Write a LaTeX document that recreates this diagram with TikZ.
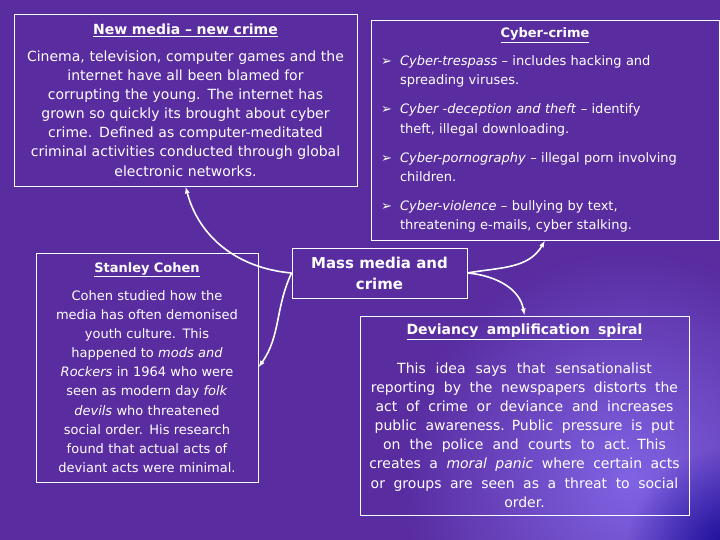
\documentclass[tikz,border=0pt]{standalone}
\usepackage{fontspec}
\setmainfont{DejaVu Sans}
\usetikzlibrary{arrows.meta,fadings}

\definecolor{bgpurple}{RGB}{89,44,160}
\definecolor{glowpurple}{RGB}{128,100,228}
\definecolor{cornerblue}{RGB}{15,5,150}
\tikzfading[name=softglow, inner color=transparent!0, outer color=transparent!100]

\tikzset{
  panel/.style={draw=white, line width=0.9pt, text=white, inner xsep=8pt,
    inner ysep=0pt, align=center, font=\fontsize{13}{19.1}\selectfont},
  widepanel/.style={panel, font=\fontsize{14}{19.1}\selectfont},
  hub/.style={panel, font=\fontsize{15}{21}\selectfont\bfseries},
  link/.style={draw=white, line width=1.6pt, -{Latex[length=7pt,width=5pt]}}
}
\newcommand{\heading}[1]{\underline{\textbf{#1}}}
\newcommand{\bul}{\makebox[19pt][l]{➢}}
\newcommand{\hang}{\hspace*{19pt}}

\begin{document}
\begin{tikzpicture}[x=1pt,y=1pt]
  \useasboundingbox (0,0) rectangle (720,540);
  % background
  \begin{scope}
    \clip (0,0) rectangle (720,540);
    \fill[bgpurple] (0,0) rectangle (720,540);
    \fill[glowpurple, path fading=softglow] (630,60) circle (230);
    \fill[cornerblue, path fading=softglow] (735,-15) circle (110);
  \end{scope}

  % boxes
  \node[widepanel, text width=327pt, minimum width=343pt, minimum height=172pt]
    (newmedia) at (185.5,440) {%
      \heading{New media – new crime}\\[8pt]
      Cinema, television, computer games and the\\
      internet have all been blamed for\\
      corrupting the young.  The internet has\\
      grown so quickly its brought about cyber\\
      crime.  Defined as computer-meditated\\
      criminal activities conducted through global\\
      electronic networks.};
  \node[panel, align=left, inner xsep=10pt, text width=328pt,
    minimum width=348pt, minimum height=220pt]
    (cyber) at (545,410) {%
      \makebox[328pt]{\heading{Cyber-crime}}\\[9pt]
      \bul\textit{Cyber-trespass} – includes hacking and\\
      \hang spreading viruses.\\[10pt]
      \bul\textit{Cyber -deception and theft} – identify\\
      \hang theft, illegal downloading.\\[10pt]
      \bul\textit{Cyber-pornography} – illegal porn involving\\
      \hang children.\\[10pt]
      \bul\textit{Cyber-violence} – bullying by text,\\
      \hang threatening e-mails, cyber stalking.};
  \node[hub, minimum width=175pt, minimum height=50pt]
    (massmedia) at (379.5,267) {Mass media and\\crime};
  \node[panel, text width=206pt, minimum width=222pt, minimum height=229pt]
    (cohen) at (147,172.5) {%
      \heading{Stanley Cohen}\\[9pt]
      Cohen studied how the\\
      media has often demonised\\
      youth culture.  This\\
      happened to \textit{mods and}\\
      \textit{Rockers} in 1964 who were\\
      seen as modern day \textit{folk}\\
      \textit{devils} who threatened\\
      social order.  His research\\
      found that actual acts of\\
      deviant acts were minimal.};
  \node[widepanel, text width=313pt, minimum width=329pt, minimum height=199pt]
    (deviancy) at (524.5,124.5) {%
      \spaceskip=0.6em plus 0.1em
      \heading{Deviancy amplification spiral}\\[20pt]
      This idea says that sensationalist\\
      reporting by the newspapers distorts the\\
      act of crime or deviance and increases\\
      public awareness.  Public pressure is put\\
      on the police and courts to act.  This\\
      creates a \textit{moral panic} where certain acts\\
      or groups are seen as a threat to social\\
      order.};

  % connectors
  \draw[link] (massmedia.west) to[out=175, in=-75] (newmedia.south);
  \draw[link] (massmedia.west) to[out=-115, in=55] (cohen.east);
  \draw[link] (massmedia.east) to[out=10, in=-120] (cyber.south);
  \draw[link] (massmedia.east) to[out=-5, in=100] (deviancy.north);
\end{tikzpicture}
\end{document}
